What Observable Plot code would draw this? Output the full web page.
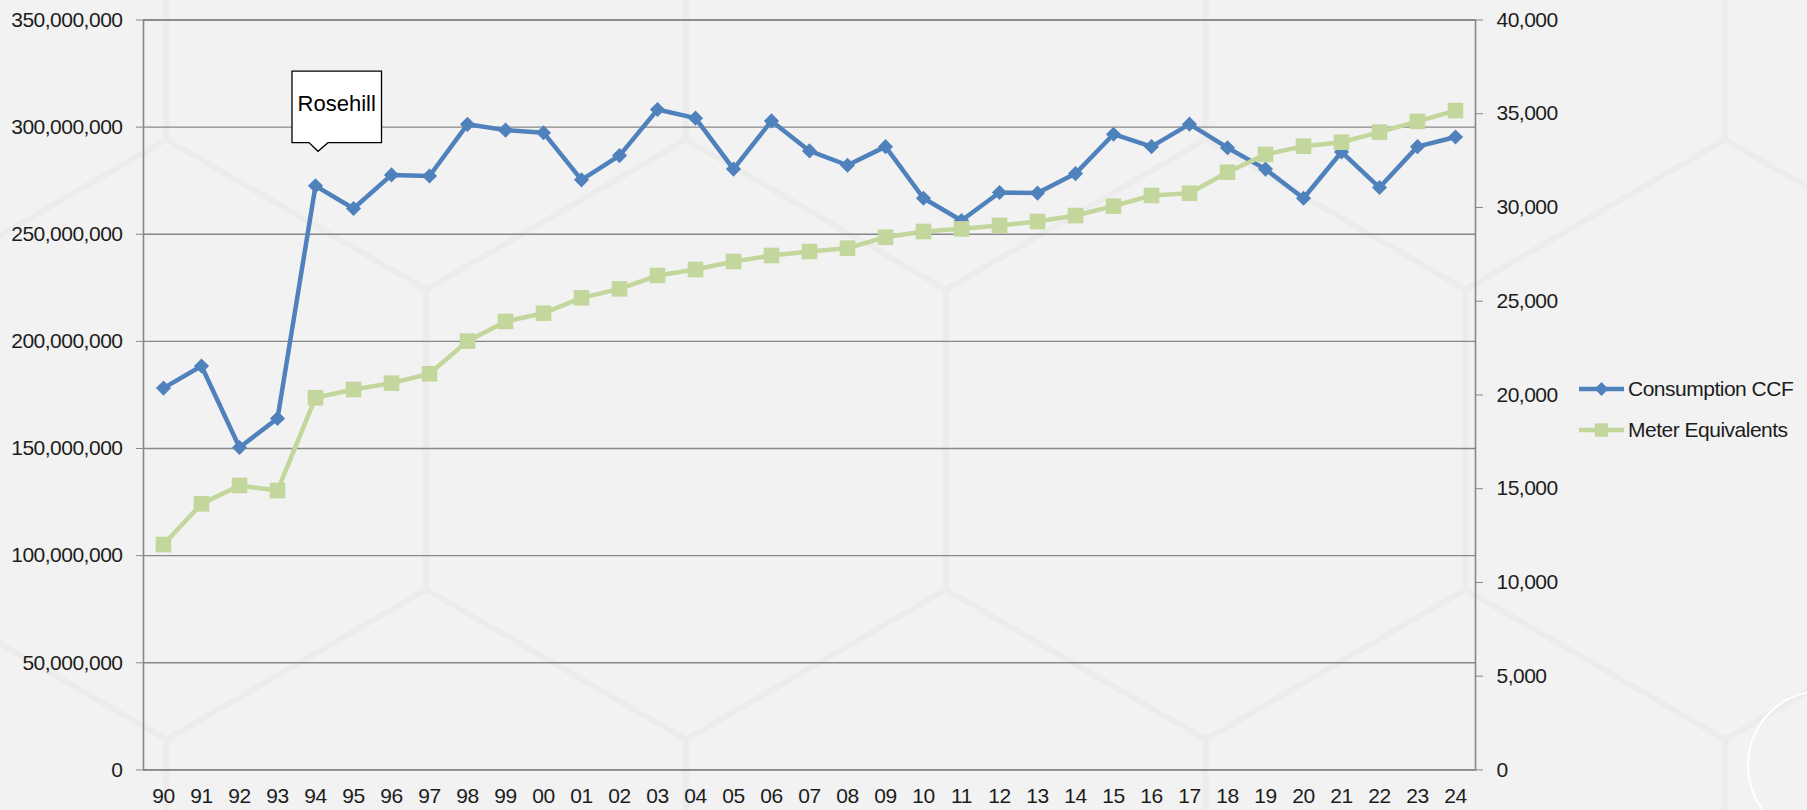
<!DOCTYPE html>
<html><head><meta charset="utf-8">
<script src="https://cdn.jsdelivr.net/npm/d3@7"></script>
<script src="https://cdn.jsdelivr.net/npm/@observablehq/plot@0.6"></script>
<style>
html,body{margin:0;padding:0;background:#f2f2f2;}
#wrap{position:relative;width:1807px;height:810px;overflow:hidden;}
#legend{position:absolute;left:0;top:0;pointer-events:none;}
</style></head><body><div id="wrap"></div>
<script>
const years = ["90","91","92","93","94","95","96","97","98","99","00","01","02","03","04","05","06","07","08","09","10","11","12","13","14","15","16","17","18","19","20","21","22","23","24"];
const consumption = [178.2e6,188.5e6,150.5e6,164.0e6,272.6e6,262.0e6,277.7e6,277.2e6,301.3e6,298.6e6,297.4e6,275.4e6,286.7e6,308.2e6,304.2e6,280.4e6,302.9e6,288.9e6,282.2e6,290.9e6,266.8e6,256.4e6,269.5e6,269.2e6,278.3e6,296.7e6,290.9e6,301.4e6,290.4e6,280.4e6,266.8e6,288.4e6,271.8e6,290.9e6,295.4e6];
const meters = [12020,14190,15170,14900,19850,20290,20630,21130,22870,23920,24360,25180,25660,26370,26690,27120,27440,27650,27830,28410,28720,28860,29040,29250,29570,30070,30640,30760,31880,32830,33270,33480,34020,34590,35170];
const leftTicks = [0,50e6,100e6,150e6,200e6,250e6,300e6,350e6];
const rightTicks = [0,5000,10000,15000,20000,25000,30000,35000,40000];
const seriesNames = ["Consumption CCF","Meter Equivalents"];
const seriesColors = ["#4f81bd","#c3d69b"];
const annotationYear = "94";
const annotationText = "Rosehill";

const leftMax = 350e6, rightMax = 40000;
const k = leftMax / rightMax;
const rows = years.map((yr, i) => ({year: yr, c: consumption[i], m: meters[i] * k}));
const fmt = d3.format(",");
const gray = "#878787";

const chart = Plot.plot({
  width: 1807, height: 810,
  marginLeft: 143, marginRight: 332, marginTop: 19.5, marginBottom: 40.6,
  style: {background: "#f2f2f2", fontFamily: "'Liberation Sans', Arial, sans-serif", fontSize: "21px", color: "#1c1c1c", letterSpacing: "-0.5px", overflow: "hidden"},
  x: {type: "point", domain: years, padding: 0.5, label: null},
  y: {domain: [0, leftMax], label: null},
  marks: [
    Plot.gridY(leftTicks, {stroke: gray, strokeOpacity: 1, strokeWidth: 1.3}),
    Plot.frame({stroke: gray, strokeWidth: 1.6}),
    Plot.axisY(leftTicks, {anchor: "left", tickSize: 7, tickPadding: 14, tickFormat: fmt, stroke: gray}),
    Plot.axisY(rightTicks.map(v => v * k), {anchor: "right", tickSize: 7, tickPadding: 14, tickFormat: d => fmt(Math.round(d / k)), stroke: gray}),
    Plot.axisX({tickSize: 0, tickPadding: 18}),
    Plot.line(rows, {x: "year", y: "c", stroke: seriesColors[0], strokeWidth: 4.5}),
    Plot.dot(rows, {x: "year", y: "c", symbol: "diamond2", r: 6.8, fill: seriesColors[0], stroke: "none"}),
    Plot.line(rows, {x: "year", y: "m", stroke: seriesColors[1], strokeWidth: 4.5}),
    Plot.dot(rows, {x: "year", y: "m", symbol: "square", r: 8.8, fill: seriesColors[1], stroke: "none"})
  ]
});
document.getElementById("wrap").appendChild(chart);
const svg = d3.select(chart);

// Faint hexagon background decoration
const deco = svg.insert("g", ":first-child").attr("fill", "none");
const s = 300, w = s * Math.sqrt(3) / 2;
const hexPath = (cx, cy) => `M${cx},${cy - s}L${cx + w},${cy - s / 2}L${cx + w},${cy + s / 2}L${cx},${cy + s}L${cx - w},${cy + s / 2}L${cx - w},${cy - s / 2}Z`;
let dHex = "";
for (let j = -1; j <= 1; j++) {
  const cy = 439.5 + 1.5 * s * j;
  const off = (j % 2 === 0) ? 686 : 686 - w;
  for (let i = -2; i <= 3; i++) dHex += hexPath(off + 2 * w * i, cy);
}
deco.append("path").attr("d", dHex).attr("stroke", "#ececec").attr("stroke-width", 6);
deco.append("circle").attr("cx", 1822).attr("cy", 765).attr("r", 74).attr("stroke", "#ffffff").attr("stroke-width", 2);

// Callout anchored to the data point
const xs = chart.scale("x"), ys = chart.scale("y");
const ai = years.indexOf(annotationYear);
const px = xs.apply(annotationYear), py = ys.apply(consumption[ai]);
const L = px - 23, R = px + 66.5, T = py - 114.3, B = py - 42.7;
const g = svg.append("g");
g.append("path")
  .attr("d", `M${L},${T}H${R}V${B}H${px + 13}L${px + 3},${py - 34}L${px - 6},${B}H${L}Z`)
  .attr("fill", "#fff").attr("stroke", "#000").attr("stroke-width", 1.3);
g.append("text")
  .attr("x", (L + R) / 2).attr("y", py - 74)
  .attr("text-anchor", "middle")
  .attr("font-family", "'Liberation Sans', Arial, sans-serif")
  .attr("font-size", 22).attr("letter-spacing", 0)
  .attr("fill", "#000").text(annotationText);

// Legend on the right
const lg = d3.select("#wrap").append("svg").attr("id", "legend").attr("width", 1807).attr("height", 810);
const sym = [d3.symbolDiamond2, d3.symbolSquare];
const sizes = [6.2 * 6.2 * Math.PI, 7.5 * 7.5 * Math.PI];
seriesNames.forEach((name, i) => {
  const cy = 389 + i * 41;
  lg.append("line").attr("x1", 1579).attr("x2", 1624).attr("y1", cy).attr("y2", cy)
    .attr("stroke", seriesColors[i]).attr("stroke-width", 4.5);
  lg.append("path").attr("transform", `translate(1601.5,${cy})`)
    .attr("d", d3.symbol(sym[i], sizes[i])()).attr("fill", seriesColors[i]);
  lg.append("text").attr("x", 1628).attr("y", cy).attr("dy", "0.35em")
    .attr("font-family", "'Liberation Sans', Arial, sans-serif").attr("font-size", 21)
    .attr("letter-spacing", "-0.5px").attr("fill", "#1c1c1c").text(name);
});
</script></body></html>
